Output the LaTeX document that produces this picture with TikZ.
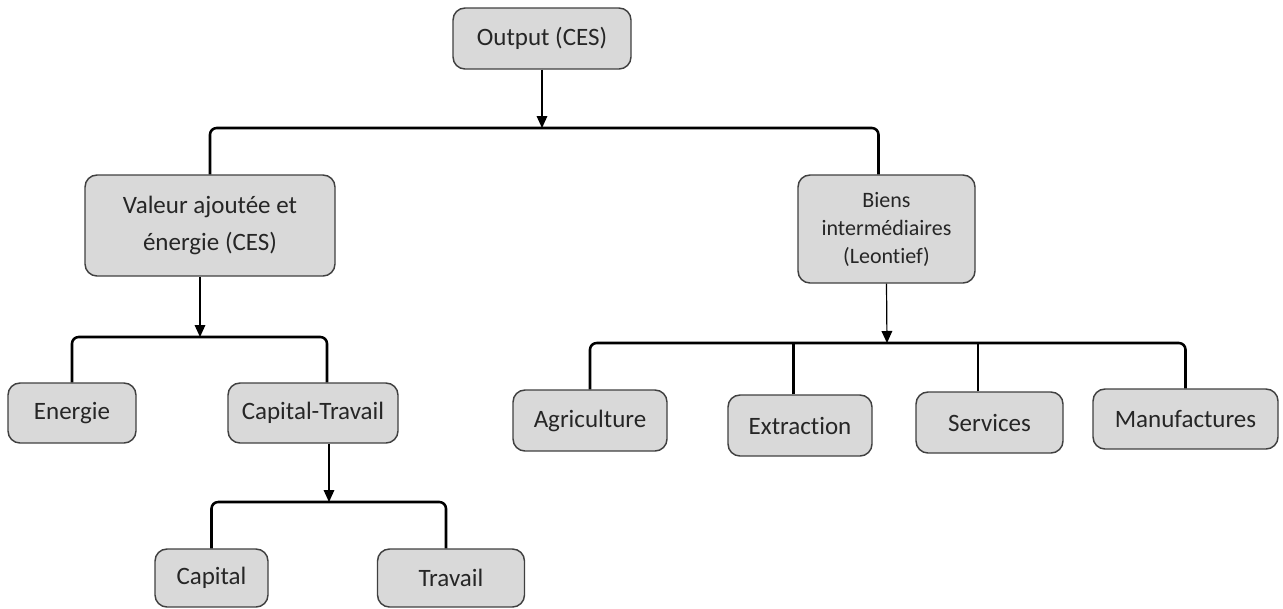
\documentclass[tikz,border=0pt]{standalone}
\usepackage{fontspec}
\setmainfont{Carlito}[Ligatures=NoCommon]
\usepackage{tikz}
\usetikzlibrary{arrows.meta,calc}
\definecolor{boxfill}{HTML}{D9D9D9}
\definecolor{boxline}{HTML}{404040}
\newcommand{\boxcolor}{boxfill}
\newcommand{\thickness}{1.9pt}
\tikzset{
  box/.style={draw=boxline, fill=\boxcolor, line width=1.1pt, rounded corners=9pt,
    align=center, inner sep=0pt, text=black!85,
    font=\fontsize{18.75}{27.75}\selectfont},
  smallbox/.style={box, font=\fontsize{16.5}{21}\selectfont},
  bracket/.style={line width=\thickness, rounded corners=5pt},
  link/.style={line width=0.9pt, -{Triangle[length=9pt,width=8pt]}}
}

\begin{document}
\begin{tikzpicture}[x=0.75pt,y=-0.75pt]
\useasboundingbox (0,0) rectangle (1283,608);
%nodes
\node[box, minimum width=133.5pt, minimum height=45.75pt] (out) at (542, 38.5) {Output (CES)};
\node[box, minimum width=187.5pt, minimum height=75.75pt] (val) at (210, 225.5) {Valeur ajoutée et\\énergie (CES)};
\node[smallbox, minimum width=132.75pt, minimum height=81pt] (biens) at (886.5, 229) {Biens\\intermédiaires\\(Leontief)};
\node[box, minimum width=96pt, minimum height=45pt] (ener) at (72, 413) {Energie};
\node[box, minimum width=127.5pt, minimum height=45pt] (ct) at (313, 413) {Capital-Travail};
\node[box, minimum width=84.75pt, minimum height=43.5pt] (cap) at (211.5, 578) {Capital};
\node[box, minimum width=110.25pt, minimum height=43.5pt] (trav) at (451, 578) {Travail};
\node[box, minimum width=115.5pt, minimum height=45.75pt] (agr) at (590, 420.5) {Agriculture};
\node[box, minimum width=108pt, minimum height=45.75pt] (ext) at (800, 425.5) {Extraction};
\node[box, minimum width=110.25pt, minimum height=45.75pt] (serv) at (989.5, 422.5) {Services};
\node[box, minimum width=138.75pt, minimum height=45pt] (manu) at (1185.5, 419) {Manufactures};
%junctions
\coordinate (j1) at (542, 128);
\coordinate (j2) at (200, 337);
\coordinate (j3) at (329, 502);
\coordinate (j4) at (887, 343);
%output
\draw[link] (out.south) -- (j1);
\draw[bracket] (val.north) |- (j1) -| ([xshift=-6pt]biens.north);
%valeur ajoutee
\draw[link] (j2 |- val.south) -- (j2);
\draw[bracket] (ener.north) |- (j2) -| ([xshift=10.5pt]ct.north);
%capital-travail
\draw[link] (j3 |- ct.south) -- (j3);
\draw[bracket] (cap.north) |- (j3) -| ([xshift=-3.75pt]trav.north);
%biens intermediaires
\draw[link] (biens.south) -- (j4);
\draw[bracket] (agr.north) |- (j4) -| (manu.north);
\draw[bracket] ([xshift=-5pt]ext.north) -- ([xshift=-5pt]ext.north |- j4);
\draw[bracket] ([xshift=-8.5pt]serv.north) -- ([xshift=-8.5pt]serv.north |- j4);
\end{tikzpicture}
\end{document}
